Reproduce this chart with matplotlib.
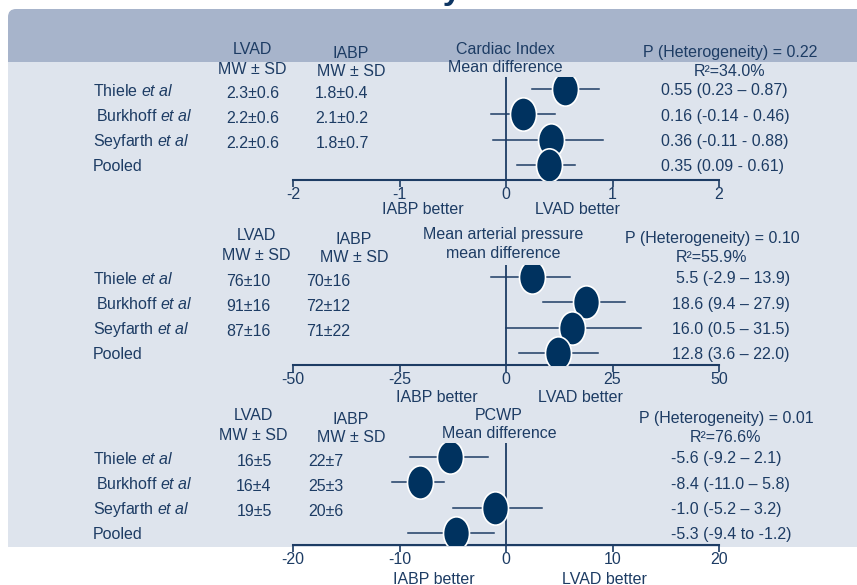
import matplotlib
matplotlib.use("Agg")
import matplotlib.pyplot as plt
from matplotlib.patches import Rectangle, FancyBboxPatch
from matplotlib.path import Path
from matplotlib.transforms import Affine2D

plt.rcParams['font.family'] = ['Liberation Sans', 'DejaVu Sans']
plt.rcParams['mathtext.fontset'] = 'custom'
plt.rcParams['mathtext.rm'] = 'Liberation Sans'
plt.rcParams['mathtext.it'] = 'Liberation Sans:italic'
plt.rcParams['axes.unicode_minus'] = False

# data
studies = ["Thiele $\\mathit{et\\ al}$", "Burkhoff $\\mathit{et\\ al}$",
           "Seyfarth $\\mathit{et\\ al}$", "Pooled"]

ci_lvad = ["2.3±0.6", "2.2±0.6", "2.2±0.6"]
ci_iabp = ["1.8±0.4", "2.1±0.2", "1.8±0.7"]
ci_mean = [0.55, 0.16, 0.42, 0.40]
ci_lo = [0.24, -0.14, -0.12, 0.10]
ci_hi = [0.87, 0.46, 0.91, 0.65]
ci_text = ["0.55 (0.23 – 0.87)", "0.16 (-0.14 - 0.46)",
           "0.36 (-0.11 - 0.88)", "0.35 (0.09 - 0.61)"]

map_lvad = ["76±10", "91±16", "87±16"]
map_iabp = ["70±16", "72±12", "71±22"]
map_mean = [6.0, 18.8, 15.5, 12.3]
map_lo = [-3.5, 8.7, 0.0, 3.0]
map_hi = [15.0, 27.9, 31.7, 21.6]
map_text = ["5.5 (-2.9 – 13.9)", "18.6 (9.4 – 27.9)",
            "16.0 (0.5 – 31.5)", "12.8 (3.6 – 22.0)"]

pcwp_lvad = ["16±5", "16±4", "19±5"]
pcwp_iabp = ["22±7", "25±3", "20±6"]
pcwp_mean = [-5.3, -8.1, -1.0, -4.7]
pcwp_lo = [-9.0, -10.7, -5.0, -9.2]
pcwp_hi = [-1.7, -5.8, 3.4, -1.1]
pcwp_text = ["-5.6 (-9.2 – 2.1)", "-8.4 (-11.0 – 5.8)",
             "-1.0 (-5.2 – 3.2)", "-5.3 (-9.4 to -1.2)"]

navy = "#1d3c64"
dot = "#00325f"
W, H = 857, 585

fig = plt.figure(figsize=(W / 100, H / 100), dpi=100)
bg = fig.add_axes([0, 0, 1, 1])
bg.set_xlim(0, W)
bg.set_ylim(H, 0)
bg.axis("off")

bg.add_patch(FancyBboxPatch((8, 9), 900, 80, boxstyle="round,pad=0,rounding_size=8",
                            fc="#a7b4cb", ec="none"))
bg.add_patch(Rectangle((8, 62), W, 485, fc="#dee4ed", ec="none"))
# slide title, mostly above the visible area
bg.text(445, -1, "Haemodynamics", ha="center", va="baseline", fontsize=24,
        fontweight="bold", color="#0d3563")

ellipse = Path.unit_circle().transformed(Affine2D().scale(0.78, 1.0))

panels = [
    dict(lvad=ci_lvad, iabp=ci_iabp, m=ci_mean, lo=ci_lo, hi=ci_hi, txt=ci_text,
         lim=2, ticks=[-2, -1, 0, 1, 2], title=["Cardiac Index", "Mean difference"],
         p="P (Heterogeneity) = 0.22", r2="R²=34.0%",
         ytop=77, yax=180, row0=89, hy=50, title_x=505, p_x=730, txt_x=661, txt_ha="left",
         lvad_x=252, iabp_x=351, val_x=(253, 342), better_y=210, better_x=(423, 577)),
    dict(lvad=map_lvad, iabp=map_iabp, m=map_mean, lo=map_lo, hi=map_hi, txt=map_text,
         lim=50, ticks=[-50, -25, 0, 25, 50],
         title=["Mean arterial pressure", "mean difference"],
         p="P (Heterogeneity) = 0.10", r2="R²=55.9%",
         ytop=265, yax=365, row0=277, hy=236, title_x=503, p_x=712, txt_x=790, txt_ha="right",
         lvad_x=256, iabp_x=354, val_x=(248, 328), better_y=397, better_x=(437, 580)),
    dict(lvad=pcwp_lvad, iabp=pcwp_iabp, m=pcwp_mean, lo=pcwp_lo, hi=pcwp_hi, txt=pcwp_text,
         lim=20, ticks=[-20, -10, 0, 10, 20], title=["PCWP", "Mean difference"],
         p="P (Heterogeneity) = 0.01", r2="R²=76.6%",
         ytop=443, yax=545, row0=457, hy=416, title_x=499, p_x=726, txt_x=671, txt_ha="left",
         lvad_x=253, iabp_x=351, val_x=(254, 326), better_y=579, better_x=(434, 604)),
]

step = 25.3
fs = 11.5
for pn in panels:
    x0, x1 = 293, 719
    ax = fig.add_axes([x0 / W, 1 - pn["yax"] / H, (x1 - x0) / W, (pn["yax"] - pn["ytop"]) / H])
    ax.patch.set_alpha(0)
    ax.set_xlim(-pn["lim"], pn["lim"])
    ax.set_ylim((pn["yax"] - pn["row0"]) / step, (pn["ytop"] - pn["row0"]) / step)
    for s in ["top", "right", "left"]:
        ax.spines[s].set_visible(False)
    ax.spines["bottom"].set_color(navy)
    ax.spines["bottom"].set_linewidth(1.5)
    ax.set_yticks([])
    ax.set_xticks(pn["ticks"])
    ax.tick_params(axis="x", colors=navy, direction="out", length=5, width=1.2,
                   labelsize=fs, pad=0)
    ax.axvline(0, color=navy, lw=1.3)
    rows = range(len(pn["m"]))
    for i in rows:
        ax.plot([pn["lo"][i], pn["hi"][i]], [i, i], color=navy, lw=1.1, zorder=2)
    ax.plot(pn["m"], list(rows), ls="none", marker=ellipse, ms=24, mfc=dot,
            mec="white", mew=1.2, zorder=3)

    # header texts
    hy = pn["hy"]
    bg.text(pn["lvad_x"], hy, "LVAD", ha="center", va="center", fontsize=fs, color=navy)
    bg.text(pn["lvad_x"], hy + 19, "MW ± SD", ha="center", va="center", fontsize=fs, color=navy)
    bg.text(pn["iabp_x"], hy + 3, "IABP", ha="center", va="center", fontsize=fs, color=navy)
    bg.text(pn["iabp_x"], hy + 22, "MW ± SD", ha="center", va="center", fontsize=fs, color=navy)
    bg.text(pn["title_x"], hy - 1, pn["title"][0], ha="center", va="center", fontsize=fs, color=navy)
    bg.text(pn["title_x"], hy + 18, pn["title"][1], ha="center", va="center", fontsize=fs, color=navy)
    bg.text(pn["p_x"], hy + 3, pn["p"], ha="center", va="center", fontsize=fs, color=navy)
    bg.text(pn["p_x"], hy + 22, pn["r2"], ha="center", va="center", fontsize=fs, color=navy)

    for i, name in enumerate(studies):
        y = pn["row0"] + i * step
        bg.text(93 + (3 if i == 1 else 0), y + 2, name, ha="left", va="center",
                fontsize=fs, color=navy)
        if i < len(pn["lvad"]):
            bg.text(pn["val_x"][0], y + 4, pn["lvad"][i], ha="center", va="center",
                    fontsize=fs, color=navy)
            bg.text(pn["val_x"][1], y + 4, pn["iabp"][i], ha="center", va="center",
                    fontsize=fs, color=navy)
        bg.text(pn["txt_x"], y + 2, pn["txt"][i], ha=pn["txt_ha"], va="center",
                fontsize=fs, color=navy)

    bg.text(pn["better_x"][0], pn["better_y"], "IABP better", ha="center", va="center",
            fontsize=fs, color=navy)
    bg.text(pn["better_x"][1], pn["better_y"], "LVAD better", ha="center", va="center",
            fontsize=fs, color=navy)

fig.savefig("out.png", dpi=100)
